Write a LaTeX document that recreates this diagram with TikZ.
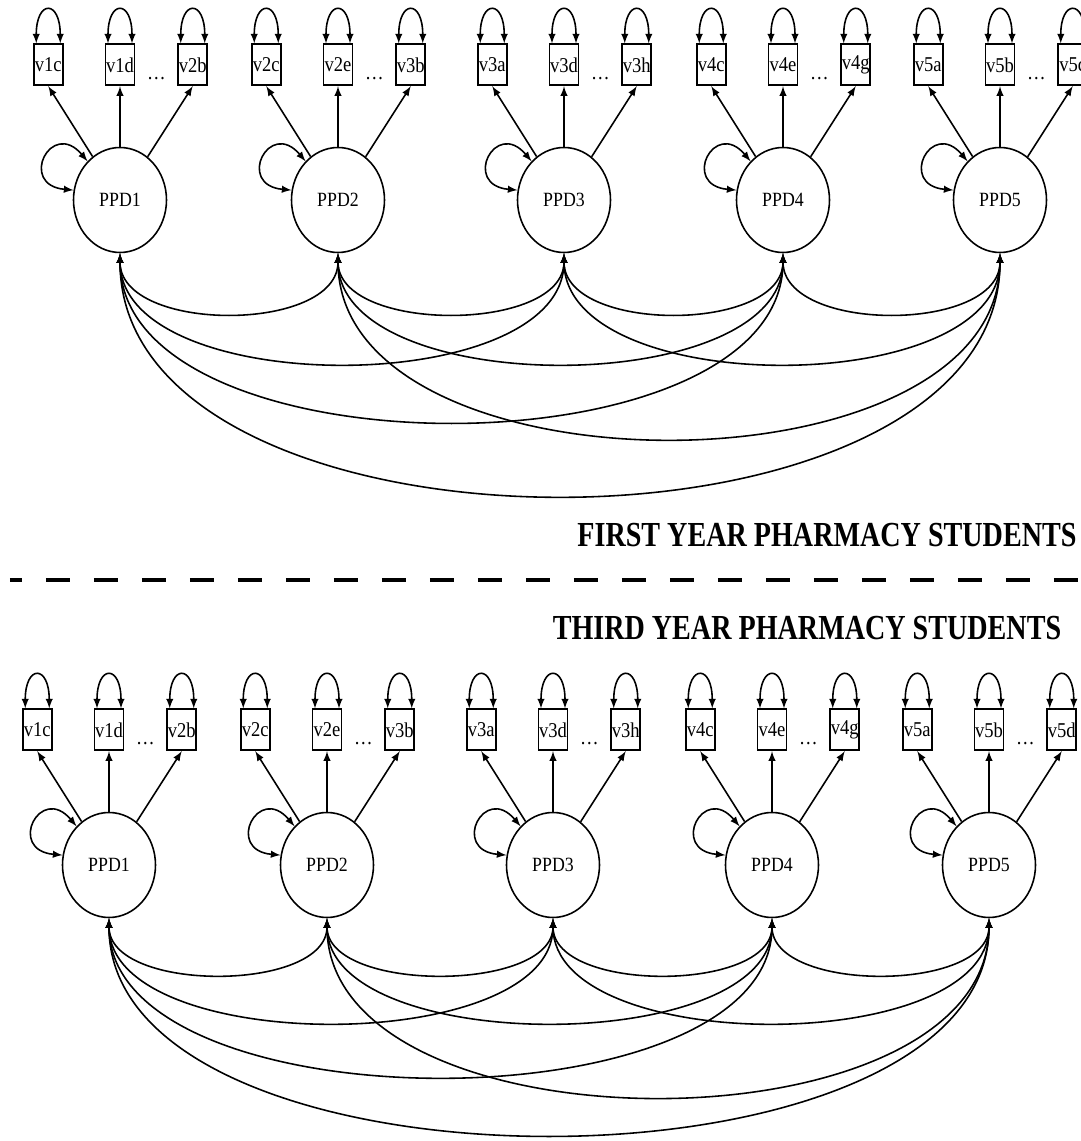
\documentclass[tikz,border=0pt]{standalone}
\usepackage{fontspec}
\setmainfont{Liberation Serif}
\newfontfamily\semfont[FakeStretch=0.88]{Liberation Serif}
\newfontfamily\headfont[FakeStretch=0.8]{Liberation Serif}
\usepackage{tikz}
\usetikzlibrary{shapes.geometric, arrows}
\usetikzlibrary{positioning}
\usetikzlibrary{calc}
\tikzstyle{latent} = [ellipse, 
minimum width=1.86cm, 
minimum height=2.1cm, 
inner sep=0pt, 
draw=black, 
line width=0.9pt,
font=\semfont\fontsize{11.5}{13}\selectfont]
\tikzstyle{indicator} = [rectangle, 
minimum width=0.58cm, 
minimum height=0.82cm, 
inner sep=0pt, 
draw=black, 
line width=1pt,
font=\semfont\fontsize{12}{14}\selectfont]
\tikzstyle{ellip} = [inner sep=0pt, font=\semfont\fontsize{12}{14}\selectfont]
\tikzstyle{heading} = [font=\headfont\bfseries\fontsize{20}{24}\selectfont]
\tikzstyle{line} = [draw, line width=0.9pt, -latex]
\tikzstyle{cov} = [draw, line width=0.9pt, latex-latex]
\tikzstyle{divider} = [draw, line width=2.3pt, dash pattern=on 0.48cm off 0.48cm, dash phase=0.24cm]

\begin{document}
\begin{tikzpicture}[node distance= 1.21cm and 0.82cm]
\useasboundingbox (0,0) rectangle (21.62,22.82);

% first year
\foreach \i/\x/\a/\b/\c in {1/2.40/v1c/v1d/v2b, 2/6.76/v2c/v2e/v3b, 3/11.28/v3a/v3d/v3h, 4/15.66/v4c/v4e/v4g, 5/20.00/v5a/v5b/v5c}
{
\node [latent] (f\i) at (\x,18.82) {PPD\i};
\node [indicator, above = of f\i] (fb\i) {\b};
\node [indicator, left = of fb\i] (fa\i) {\a};
\node [indicator, right = 0.84cm of fb\i] (fc\i) {\c};
\node [ellip] (fd\i) at ($(fb\i.south east)!0.5!(fc\i.south west)+(0,0.15)$) {\dots};
\path [line] (f\i) -- (fa\i.south);
\path [line] (f\i) -- (fb\i.south);
\path [line] (f\i) -- (fc\i.south);
\foreach \n in {a,b,c}
  \path [cov] ([xshift=-0.24cm]f\n\i.north) .. controls +(0,0.88) and +(0,0.88) .. ([xshift=0.24cm]f\n\i.north);
\path [cov] (f\i.130) to [out=130, in=175, looseness=4.5] (f\i.168);
}
\foreach \i/\j/\d in {1/2/1.6, 2/3/1.6, 3/4/1.6, 4/5/1.6, 1/3/2.93, 2/4/2.93, 3/5/2.93, 1/4/4.48, 2/5/4.93, 1/5/6.45}
  \path [cov] (f\i.south) .. controls +(0,-\d) and +(0,-\d) .. (f\j.south);

\node [heading] (first) at (16.54,12.12) {FIRST YEAR PHARMACY STUDENTS};
\path [divider] (0.2,11.22) -- (21.62,11.22);
\node [heading] (third) at (16.14,10.26) {THIRD YEAR PHARMACY STUDENTS};

% third year
\foreach \i/\x/\a/\b/\c in {1/2.18/v1c/v1d/v2b, 2/6.54/v2c/v2e/v3b, 3/11.06/v3a/v3d/v3h, 4/15.44/v4c/v4e/v4g, 5/19.78/v5a/v5b/v5d}
{
\node [latent] (t\i) at (\x,5.52) {PPD\i};
\node [indicator, above = of t\i] (tb\i) {\b};
\node [indicator, left = of tb\i] (ta\i) {\a};
\node [indicator, right = 0.84cm of tb\i] (tc\i) {\c};
\node [ellip] (td\i) at ($(tb\i.south east)!0.5!(tc\i.south west)+(0,0.15)$) {\dots};
\path [line] (t\i) -- (ta\i.south);
\path [line] (t\i) -- (tb\i.south);
\path [line] (t\i) -- (tc\i.south);
\foreach \n in {a,b,c}
  \path [cov] ([xshift=-0.24cm]t\n\i.north) .. controls +(0,0.88) and +(0,0.88) .. ([xshift=0.24cm]t\n\i.north);
\path [cov] (t\i.130) to [out=130, in=175, looseness=4.5] (t\i.168);
}
\foreach \i/\j/\d in {1/2/1.49, 2/3/1.49, 3/4/1.49, 4/5/1.49, 1/3/2.77, 2/4/2.77, 3/5/2.77, 1/4/4.21, 2/5/4.75, 1/5/5.76}
  \path [cov] (t\i.south) .. controls +(0,-\d) and +(0,-\d) .. (t\j.south);

\end{tikzpicture}
\end{document}
